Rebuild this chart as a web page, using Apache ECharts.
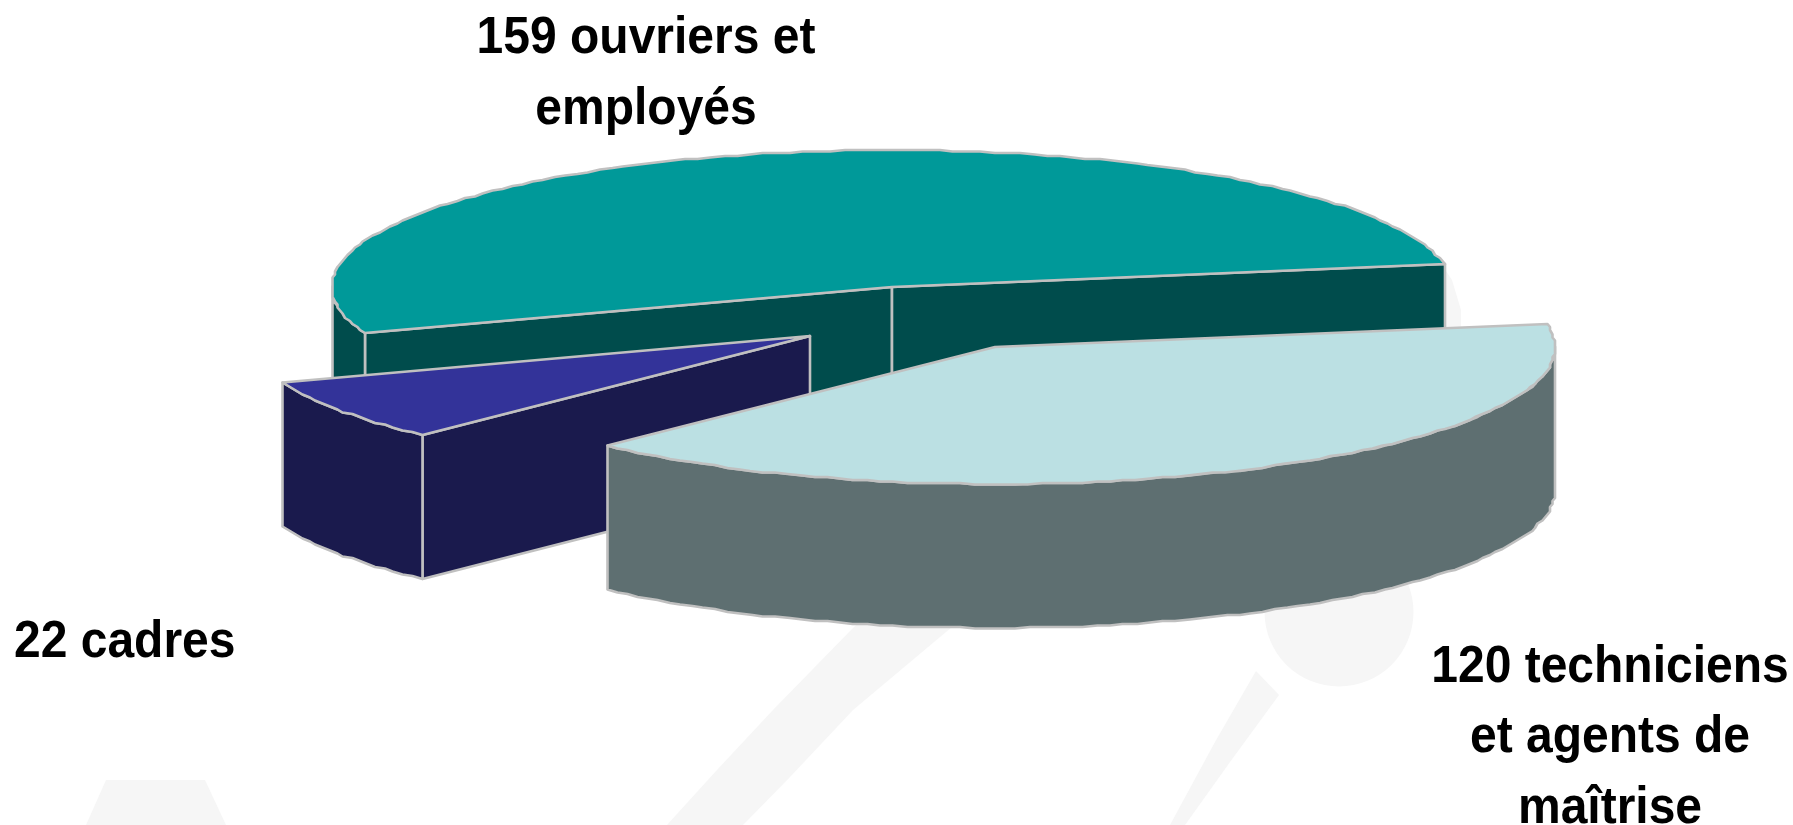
<!DOCTYPE html>
<html><head><meta charset="utf-8">
<style>html,body{margin:0;padding:0;background:#fff}#c{width:1793px;height:825px}</style>
<script src="https://cdn.jsdelivr.net/npm/echarts@6/dist/echarts.min.js"></script>
</head><body><div id="c"></div>
<script>
var categories = ['159 ouvriers et\nemployés', '22 cadres', '120 techniciens\net agents de\nmaîtrise'];
var seriesValues = [159, 22, 120];
var topColors = ['#009999', '#333399', '#bbe0e3'];
var sideColors = ['#004c4c', '#1a1a4d', '#5e6f71'];
var sliceCentres = [[892, 287], [810, 336], [995, 347]];
var labelAnchors = [[646, 74, 'center'], [14, 643, 'left'], [1610, 738, 'center']];

var RX = 560, RY = 137, DEPTH = 144, END_ANGLE = 350.4, EDGE = '#c0c0c0', STROKE_W = 2.6;
var TEXT_SCALE_Y = 1.09, LINE_H = 64.5;
var total = seriesValues.reduce(function (a, b) { return a + b; }, 0);

function pt(c, deg, dy) {
  var r = deg * Math.PI / 180;
  var x = c[0] + RX * Math.cos(r), y = c[1] + RY * Math.sin(r) + (dy || 0);
  return [Math.round(x / 2.5) * 2.5, Math.round(y / 1.5) * 1.5];
}
function arc(c, a0, a1, dy) {
  var out = [], step = 1.4, n = Math.max(1, Math.ceil((a1 - a0) / step));
  for (var i = 0; i <= n; i++) out.push(pt(c, a0 + (a1 - a0) * i / n, dy));
  return out;
}
function poly(points, fill) {
  return { type: 'polygon', shape: { points: points },
    style: { fill: fill, stroke: EDGE, lineWidth: STROKE_W, lineJoin: 'round' } };
}
function sinD(d) { return Math.sin(d * Math.PI / 180); }

function renderItem(params, api) {
  var idx = params.dataIndex, before = 0;
  for (var i = 0; i < idx; i++) before += seriesValues[i];
  var a1 = END_ANGLE - before / total * 360;
  var a0 = a1 - api.value(0) / total * 360;
  var c = sliceCentres[idx], kids = [];
  var bottom = [c[0], c[1] + DEPTH];

  // cut faces seen from the front
  [[a0, a0 - 90], [a1, a1 + 90]].forEach(function (f) {
    if (sinD(f[1]) > 0) {
      var p = pt(c, f[0]), q = pt(c, f[0], DEPTH);
      kids.push(poly([c, p, q, bottom], sideColors[idx]));
    }
  });
  // outer wall: the part of the rim in the front half of the ellipse
  [[0, 180], [360, 540], [-360, -180]].forEach(function (w) {
    var s = Math.max(a0, w[0]), e = Math.min(a1, w[1]);
    if (e > s) {
      kids.push(poly(arc(c, s, e, 0).concat(arc(c, s, e, DEPTH).reverse()), sideColors[idx]));
    }
  });
  // top face
  kids.push(poly([c].concat(arc(c, a0, a1, 0)), topColors[idx]));
  // label
  var l = labelAnchors[idx];
  kids.push({ type: 'text', z2: 50, x: l[0], y: l[1], scaleY: TEXT_SCALE_Y, style: {
    text: categories[idx], x: 0, y: 0, align: l[2], verticalAlign: 'middle',
    fill: '#000', font: 'bold 48px "Liberation Sans", Arial, sans-serif', lineHeight: LINE_H } });
  return { type: 'group', children: kids };
}

var wm = '#f6f6f6';
function wmPoly(points) { return { type: 'polygon', silent: true, z: -5, shape: { points: points }, style: { fill: wm } }; }

var chart = echarts.init(document.getElementById('c'), null, { renderer: 'canvas' });
chart.setOption({
  animation: false,
  backgroundColor: '#ffffff',
  graphic: [
    wmPoly([[106, 780], [205, 780], [226, 825], [86, 825]]),
    wmPoly([[667, 825], [717, 770], [773, 710], [853, 628], [880, 602], [970, 612], [940, 637], [853, 710], [790, 777], [743, 825]]),
    wmPoly([[1256, 671], [1279, 695], [1230, 762], [1185, 825], [1170, 825], [1215, 742]]),
    { type: 'circle', silent: true, z: -5, shape: { cx: 1339, cy: 612, r: 74.5 }, style: { fill: wm } },
    wmPoly([[1440, 262], [1452, 280], [1461, 310], [1461, 350], [1440, 350]])
  ],
  series: [{
    type: 'custom',
    coordinateSystem: 'none',
    renderItem: renderItem,
    clip: false,
    silent: true,
    data: seriesValues.map(function (v) { return [v]; })
  }]
});
</script></body></html>
